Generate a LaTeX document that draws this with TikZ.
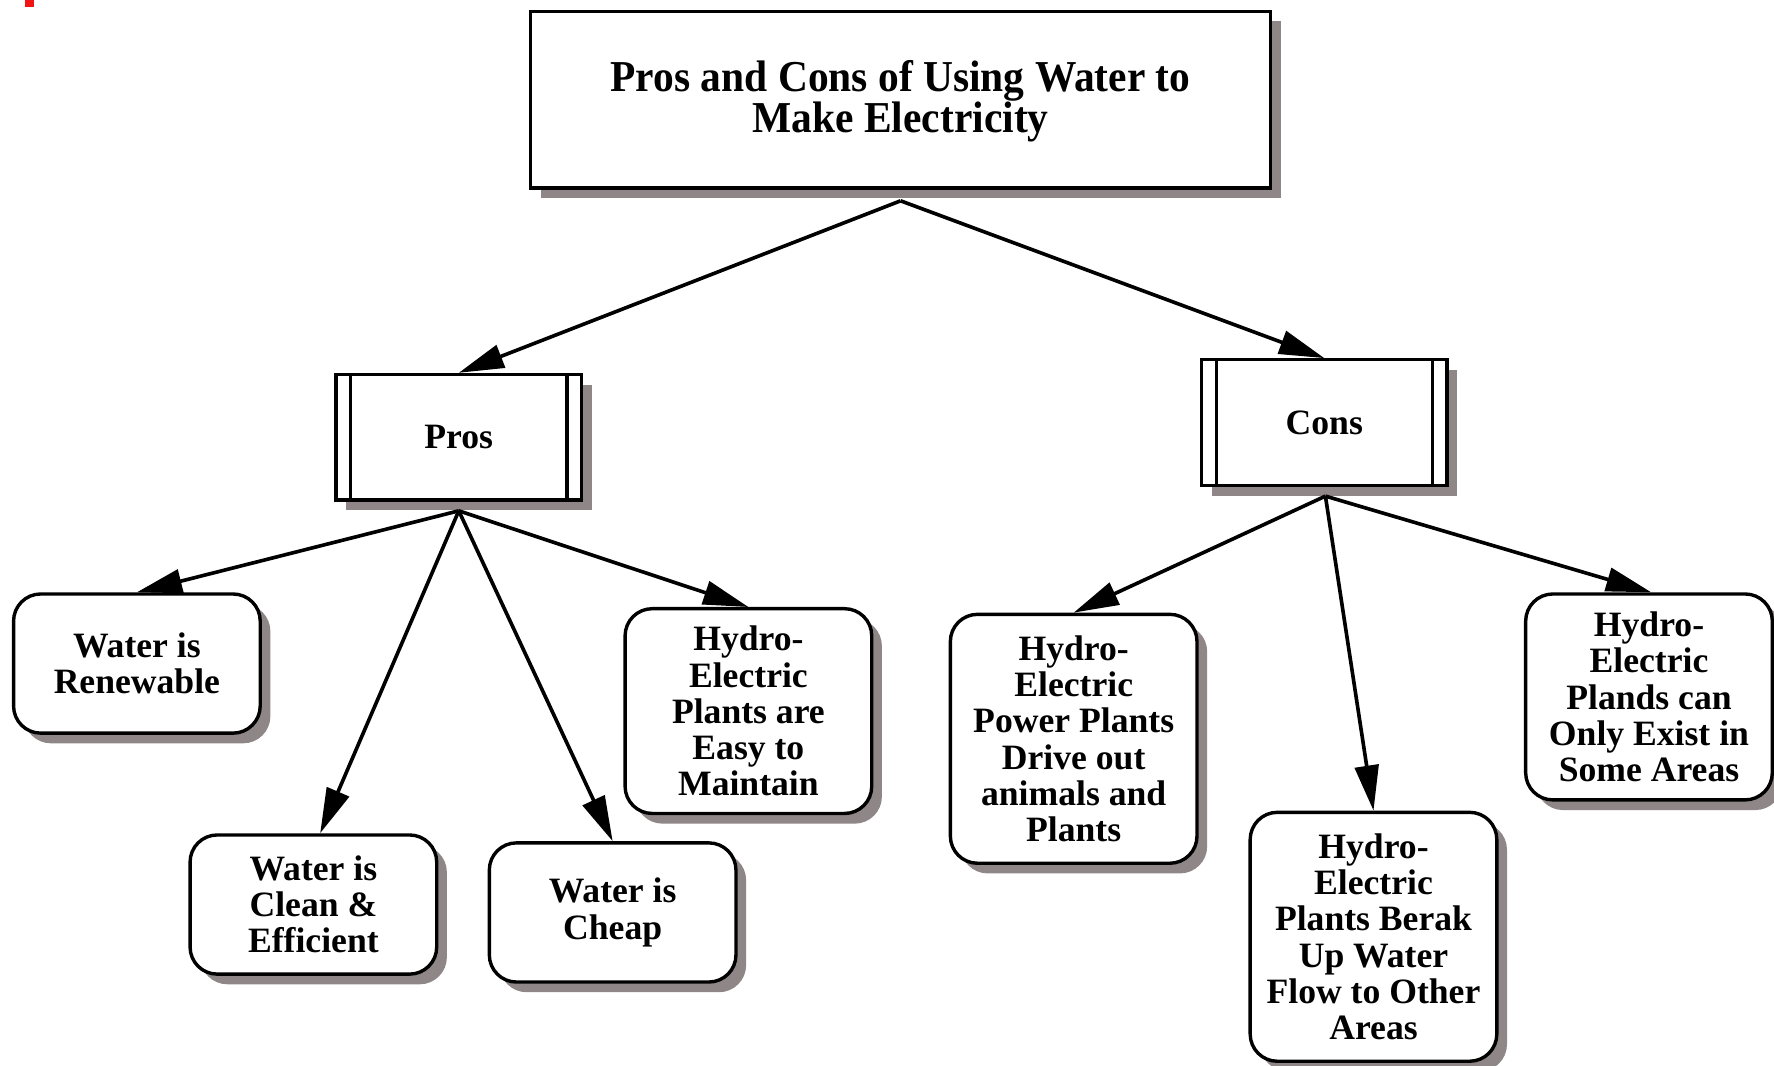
\documentclass[tikz,border=0pt]{standalone}
\usepackage{fontspec}
\setmainfont{Liberation Serif}
\newfontfamily\headfont[FakeStretch=0.94]{Liberation Serif}
\usetikzlibrary{arrows.meta,shadows}
\definecolor{shade}{RGB}{143,135,135}
\definecolor{marker}{RGB}{240,20,20}

\begin{document}
\begin{tikzpicture}[x=1pt,y=-1pt,
  box/.style={draw, line width=3pt, fill=white, align=center, inner sep=0pt,
    font=\bfseries\fontsize{31.5}{32}\selectfont,
    drop shadow={shadow xshift=9pt, shadow yshift=-9pt, fill=shade, opacity=1}},
  leaf/.style={box, rounded corners=24pt, minimum width=218pt},
  group/.style={box, minimum width=217pt, minimum height=111pt,
    path picture={
      \draw[line width=3pt]
        ([xshift=13pt]path picture bounding box.north west) --
        ([xshift=13pt]path picture bounding box.south west);
      \draw[line width=3pt]
        ([xshift=-13pt]path picture bounding box.north east) --
        ([xshift=-13pt]path picture bounding box.south east);
    }},
  arrow/.style={-{Triangle[length=40pt,width=21pt]}, line width=3.2pt}
]
\useasboundingbox (0,0) rectangle (1568,942);

% corner mark
\fill[marker] (22,0) rectangle (30,6);

% title
\node[box, minimum width=654pt, minimum height=156pt,
      font=\headfont\bfseries\fontsize{39}{36}\selectfont] (title) at (796,88)
  {\rule{0pt}{30pt}Pros and Cons of Using Water to\\Make Electricity};

% the two groups
\node[group] (pros) at (405.5,386.5) {Pros};
\node[group] (cons) at (1170.5,373.5) {Cons};

% pros
\node[leaf, minimum height=123pt] (p1) at (121,586.5) {Water is\\Renewable};
\node[leaf, minimum height=123pt] (p2) at (277,799.5) {Water is\\Clean \&\\Efficient};
\node[leaf, minimum height=123pt] (p3) at (541.5,806.5) {Water is\\Cheap};
\node[leaf, minimum height=181pt] (p4) at (661.5,628.5) {Hydro-\\Electric\\Plants are\\Easy to\\Maintain};

% cons
\node[leaf, minimum height=220pt] (c1) at (949,653) {Hydro-\\Electric\\Power Plants\\Drive out\\animals and\\Plants};
\node[leaf, minimum height=220pt] (c2) at (1214,828) {Hydro-\\Electric\\Plants Berak\\Up Water\\Flow to Other\\Areas};
\node[leaf, minimum height=182pt] (c3) at (1457.5,616) {Hydro-\\Electric\\Plands can\\Only Exist in\\Some Areas};

% connectors
\coordinate (tout) at ([yshift=-10pt]title.south);
\coordinate (pout) at ([yshift=-8pt]pros.south);
\coordinate (cout) at ([xshift=1pt,yshift=-8pt]cons.south);

\draw[arrow] (tout) -- (pros.north);
\draw[arrow] (tout) -- (cons.north);

\draw[arrow] (pout) -- (p1.north);
\draw[arrow] (pout) -- ([xshift=6pt]p2.north);
\draw[arrow] (pout) -- (p3.north);
\draw[arrow] (pout) -- (p4.north);

\draw[arrow] (cout) -- (c1.north);
\draw[arrow] (cout) -- (c2.north);
\draw[arrow] (cout) -- ([xshift=2pt]c3.north);
\end{tikzpicture}
\end{document}
